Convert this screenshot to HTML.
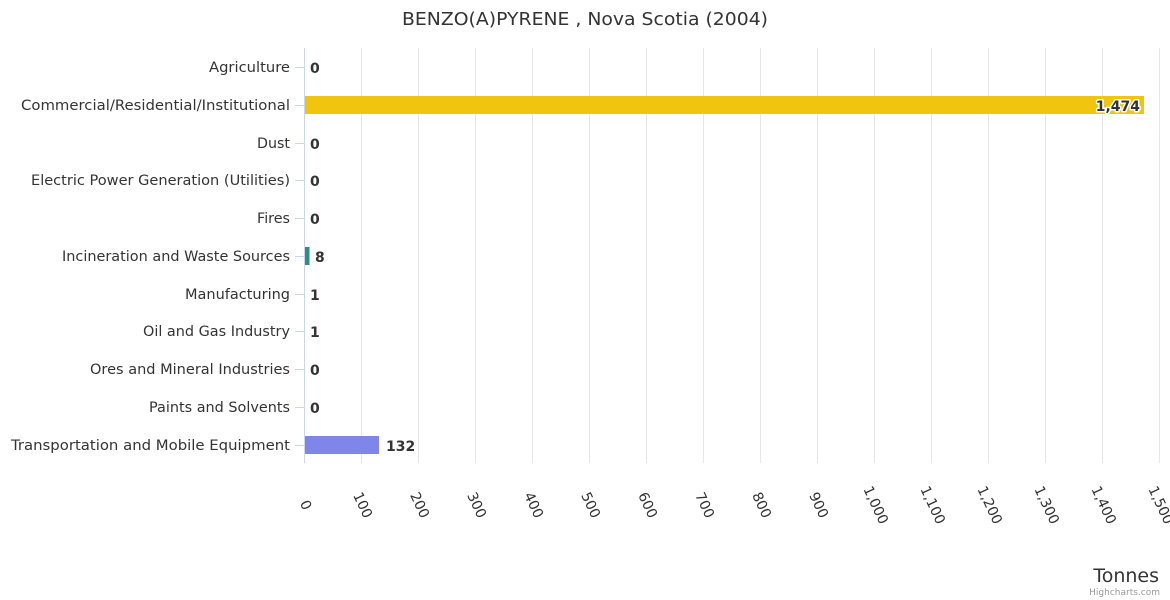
<!DOCTYPE html>
<html><head><meta charset="utf-8"><style>
html,body{margin:0;padding:0;background:#fff;}
svg{display:block;font-family:"DejaVu Sans","Liberation Sans",sans-serif;}
.c{font-size:14px;fill:#333;text-anchor:end;}
.d{font-size:14px;font-weight:bold;fill:#333;stroke:#fff;stroke-width:3px;paint-order:stroke;stroke-linejoin:round;}
.t{font-size:14px;fill:#333;text-anchor:middle;}
</style></head><body>
<svg width="1170" height="600" viewBox="0 0 1170 600">
<rect width="1170" height="600" fill="#fff"/>
<text x="585" y="25" text-anchor="middle" font-size="18" fill="#333" textLength="366" lengthAdjust="spacingAndGlyphs">BENZO(A)PYRENE , Nova Scotia (2004)</text>
<g stroke="#e6e6e6" stroke-width="1">
<line x1="361.5" y1="48" x2="361.5" y2="463"/><line x1="418.5" y1="48" x2="418.5" y2="463"/>
<line x1="475.5" y1="48" x2="475.5" y2="463"/><line x1="532.5" y1="48" x2="532.5" y2="463"/>
<line x1="589.5" y1="48" x2="589.5" y2="463"/><line x1="646.5" y1="48" x2="646.5" y2="463"/>
<line x1="703.5" y1="48" x2="703.5" y2="463"/><line x1="760.5" y1="48" x2="760.5" y2="463"/>
<line x1="817.5" y1="48" x2="817.5" y2="463"/><line x1="874.5" y1="48" x2="874.5" y2="463"/>
<line x1="931.5" y1="48" x2="931.5" y2="463"/><line x1="988.5" y1="48" x2="988.5" y2="463"/>
<line x1="1045.5" y1="48" x2="1045.5" y2="463"/><line x1="1102.5" y1="48" x2="1102.5" y2="463"/>
<line x1="1159.5" y1="48" x2="1159.5" y2="463"/>
</g>
<line x1="304.5" y1="48" x2="304.5" y2="463" stroke="#ccd6eb"/>
<g stroke="#ccd6eb">
<line x1="295" y1="67.5" x2="304" y2="67.5"/><line x1="295" y1="105.5" x2="304" y2="105.5"/>
<line x1="295" y1="143.5" x2="304" y2="143.5"/><line x1="295" y1="180.5" x2="304" y2="180.5"/>
<line x1="295" y1="218.5" x2="304" y2="218.5"/><line x1="295" y1="256.5" x2="304" y2="256.5"/>
<line x1="295" y1="294.5" x2="304" y2="294.5"/><line x1="295" y1="331.5" x2="304" y2="331.5"/>
<line x1="295" y1="369.5" x2="304" y2="369.5"/><line x1="295" y1="407.5" x2="304" y2="407.5"/>
<line x1="295" y1="445.5" x2="304" y2="445.5"/>
</g>
<g class="c">
<text x="290" y="72" textLength="81" lengthAdjust="spacingAndGlyphs">Agriculture</text>
<text x="290" y="110" textLength="269" lengthAdjust="spacingAndGlyphs">Commercial/Residential/Institutional</text>
<text x="290" y="148" textLength="33" lengthAdjust="spacingAndGlyphs">Dust</text>
<text x="290" y="185" textLength="259" lengthAdjust="spacingAndGlyphs">Electric Power Generation (Utilities)</text>
<text x="290" y="223" textLength="33" lengthAdjust="spacingAndGlyphs">Fires</text>
<text x="290" y="261" textLength="228" lengthAdjust="spacingAndGlyphs">Incineration and Waste Sources</text>
<text x="290" y="299" textLength="105" lengthAdjust="spacingAndGlyphs">Manufacturing</text>
<text x="290" y="336" textLength="147" lengthAdjust="spacingAndGlyphs">Oil and Gas Industry</text>
<text x="290" y="374" textLength="200" lengthAdjust="spacingAndGlyphs">Ores and Mineral Industries</text>
<text x="290" y="412" textLength="141" lengthAdjust="spacingAndGlyphs">Paints and Solvents</text>
<text x="290" y="450" textLength="279" lengthAdjust="spacingAndGlyphs">Transportation and Mobile Equipment</text>
</g>
<rect x="305" y="96" width="839" height="18" fill="#f1c40f"/>
<rect x="305" y="247" width="4.5" height="18" fill="#2a9087"/>
<rect x="305" y="436" width="74" height="18" fill="#8085e9"/>
<g class="d">
<text x="310" y="73">0</text>
<text x="1140" y="111" text-anchor="end">1,474</text>
<text x="310" y="149">0</text>
<text x="310" y="186">0</text>
<text x="310" y="224">0</text>
<text x="315" y="262">8</text>
<text x="310" y="300">1</text>
<text x="310" y="337">1</text>
<text x="310" y="375">0</text>
<text x="310" y="413">0</text>
<text x="386" y="451">132</text>
</g>
<g class="t">
<text transform="translate(306,505) rotate(65)" dy="0.35em">0</text>
<text transform="translate(363,505) rotate(65)" dy="0.35em">100</text>
<text transform="translate(420,505) rotate(65)" dy="0.35em">200</text>
<text transform="translate(477,505) rotate(65)" dy="0.35em">300</text>
<text transform="translate(534,505) rotate(65)" dy="0.35em">400</text>
<text transform="translate(591,505) rotate(65)" dy="0.35em">500</text>
<text transform="translate(648,505) rotate(65)" dy="0.35em">600</text>
<text transform="translate(705,505) rotate(65)" dy="0.35em">700</text>
<text transform="translate(762,505) rotate(65)" dy="0.35em">800</text>
<text transform="translate(819,505) rotate(65)" dy="0.35em">900</text>
<text transform="translate(876,505) rotate(65)" dy="0.35em">1,000</text>
<text transform="translate(933,505) rotate(65)" dy="0.35em">1,100</text>
<text transform="translate(990,505) rotate(65)" dy="0.35em">1,200</text>
<text transform="translate(1047,505) rotate(65)" dy="0.35em">1,300</text>
<text transform="translate(1104,505) rotate(65)" dy="0.35em">1,400</text>
<text transform="translate(1161,505) rotate(65)" dy="0.35em">1,500</text>
</g>
<text x="1159" y="582" text-anchor="end" font-size="19" fill="#333">Tonnes</text>
<text x="1160" y="595" text-anchor="end" font-size="9" fill="#999">Highcharts.com</text>
</svg>
</body></html>
